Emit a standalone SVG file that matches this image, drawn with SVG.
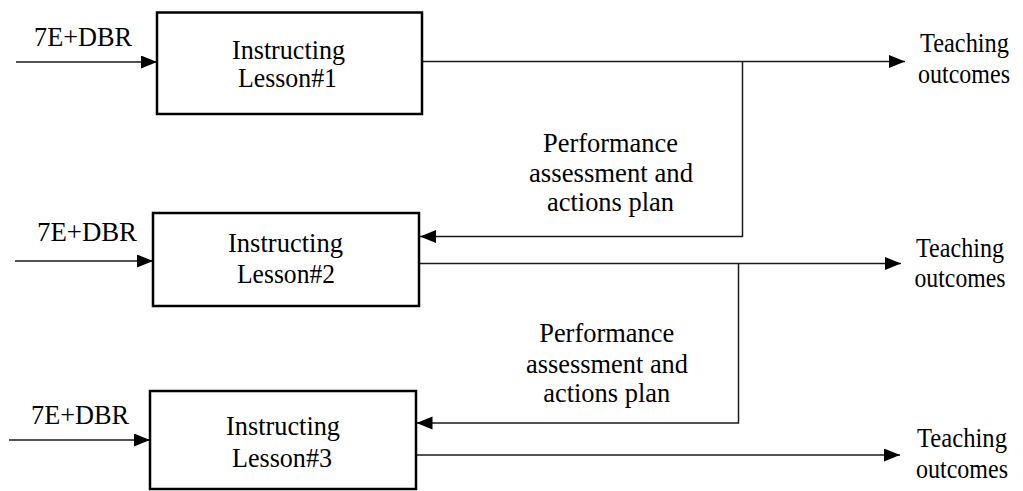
<svg xmlns="http://www.w3.org/2000/svg" width="1023" height="491" viewBox="0 0 1023 491">
  <defs>
    <marker id="ah" markerUnits="userSpaceOnUse" markerWidth="17" markerHeight="14" refX="16" refY="6.5" orient="auto">
      <path d="M0,0 L16,6.5 L0,13 z" fill="#000"/>
    </marker>
    <style>
      .box { fill: #fff; stroke: #000; stroke-width: 2.5; }
      .ln { fill: none; stroke: #1a1a1a; stroke-width: 1.5; }
      .arr { marker-end: url(#ah); }
      text { font-family: "Liberation Serif", "Times New Roman", serif; font-size: 28px; fill: #000; text-anchor: middle; }
      .out text { font-size: 27px; }
    </style>
  </defs>
  <rect width="1023" height="491" fill="#fff"/>

  <g id="connectors">
    <line class="ln arr" x1="16" y1="62" x2="157" y2="62"/>
    <line class="ln arr" x1="15" y1="261" x2="153" y2="261"/>
    <line class="ln arr" x1="9" y1="440" x2="150" y2="440"/>
    <line class="ln arr" x1="422" y1="61.5" x2="905" y2="61.5"/>
    <line class="ln arr" x1="419" y1="263.5" x2="901" y2="263.5"/>
    <line class="ln arr" x1="416" y1="455" x2="900" y2="455"/>
    <polyline class="ln arr" points="742.5,61.5 742.5,236.5 420,236.5"/>
    <polyline class="ln arr" points="738.5,263.5 738.5,423 416.5,423"/>
  </g>

  <g id="input1"><text x="83" y="46" textLength="98" lengthAdjust="spacingAndGlyphs">7E+DBR</text></g>
  <g id="input2"><text x="87" y="241" textLength="100" lengthAdjust="spacingAndGlyphs">7E+DBR</text></g>
  <g id="input3"><text x="80" y="424" textLength="98" lengthAdjust="spacingAndGlyphs">7E+DBR</text></g>

  <g id="lesson1">
    <rect class="box" x="157" y="12.5" width="265" height="101.5"/>
    <text x="288.5" y="59" textLength="113" lengthAdjust="spacingAndGlyphs">Instructing</text>
    <text x="287.5" y="87" textLength="99" lengthAdjust="spacingAndGlyphs">Lesson#1</text>
  </g>
  <g id="lesson2">
    <rect class="box" x="153" y="213" width="266" height="93"/>
    <text x="285.5" y="252" textLength="115" lengthAdjust="spacingAndGlyphs">Instructing</text>
    <text x="286" y="283" textLength="98" lengthAdjust="spacingAndGlyphs">Lesson#2</text>
  </g>
  <g id="lesson3">
    <rect class="box" x="150" y="391" width="266" height="98"/>
    <text x="283" y="435" textLength="114" lengthAdjust="spacingAndGlyphs">Instructing</text>
    <text x="282" y="466.5" textLength="100" lengthAdjust="spacingAndGlyphs">Lesson#3</text>
  </g>

  <g id="outcome1" class="out">
    <text x="964.5" y="52" textLength="89" lengthAdjust="spacingAndGlyphs">Teaching</text>
    <text x="964" y="83" textLength="92" lengthAdjust="spacingAndGlyphs">outcomes</text>
  </g>
  <g id="outcome2" class="out">
    <text x="960" y="257" textLength="88" lengthAdjust="spacingAndGlyphs">Teaching</text>
    <text x="960" y="286.5" textLength="91" lengthAdjust="spacingAndGlyphs">outcomes</text>
  </g>
  <g id="outcome3" class="out">
    <text x="962" y="446.5" textLength="90" lengthAdjust="spacingAndGlyphs">Teaching</text>
    <text x="962" y="478" textLength="92" lengthAdjust="spacingAndGlyphs">outcomes</text>
  </g>

  <g id="feedback1">
    <text x="610.5" y="152" textLength="135" lengthAdjust="spacingAndGlyphs">Performance</text>
    <text x="611" y="182" textLength="164" lengthAdjust="spacingAndGlyphs">assessment and</text>
    <text x="610.5" y="211" textLength="127" lengthAdjust="spacingAndGlyphs">actions plan</text>
  </g>
  <g id="feedback2">
    <text x="606.7" y="342" textLength="135" lengthAdjust="spacingAndGlyphs">Performance</text>
    <text x="607" y="373" textLength="162" lengthAdjust="spacingAndGlyphs">assessment and</text>
    <text x="606.7" y="402" textLength="127" lengthAdjust="spacingAndGlyphs">actions plan</text>
  </g>
</svg>
